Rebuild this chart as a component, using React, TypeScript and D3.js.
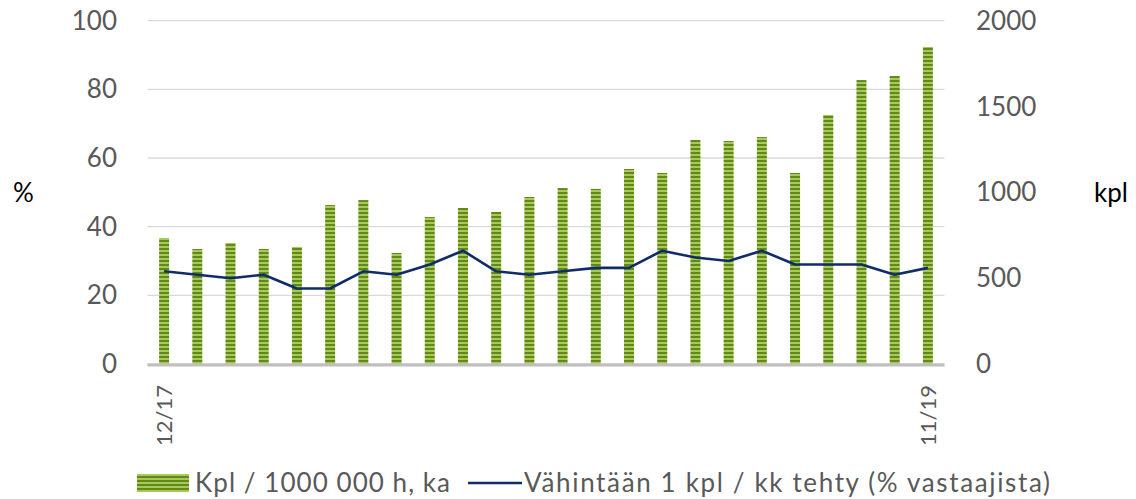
import React from "react";
import * as d3 from "d3";

const months: string[] = [
  "12/17", "1/18", "2/18", "3/18", "4/18", "5/18", "6/18", "7/18", "8/18", "9/18", "10/18", "11/18",
  "12/18", "1/19", "2/19", "3/19", "4/19", "5/19", "6/19", "7/19", "8/19", "9/19", "10/19", "11/19",
];
const kplValues: number[] = [
  734, 670, 705, 670, 682, 926, 955, 647, 856, 909, 886, 973,
  1025, 1020, 1136, 1113, 1305, 1299, 1322, 1113, 1451, 1654, 1678, 1847,
];
const pctValues: number[] = [
  27, 26, 25, 26, 22, 22, 27, 26, 29, 33, 27, 26,
  27, 28, 28, 33, 31, 30, 33, 29, 29, 29, 26, 28,
];
const leftTicks: number[] = [0, 20, 40, 60, 80, 100];
const rightTicks: number[] = [0, 500, 1000, 1500, 2000];
const shownLabels: string[] = ["12/17", "11/19"];
const barName = "Kpl / 1000 000 h, ka";
const lineName = "Vähintään 1 kpl / kk tehty (% vastaajista)";

const FONT = "Lato, 'Open Sans', sans-serif";

export default function App() {
  const W = 1136, H = 499;
  const x0 = 147.5, x1 = 944.5, yTop = 20.7, yBot = 364;
  const x = d3.scaleBand<string>().domain(months).range([x0, x1]).paddingInner(0).paddingOuter(0);
  const yL = d3.scaleLinear().domain([0, 100]).range([yBot, yTop]);
  const yR = d3.scaleLinear().domain([0, 2000]).range([yBot, yTop]);
  const cx = (m: string) => (x(m) as number) + x.bandwidth() / 2;
  const barW = 10;
  const line = d3
    .line<number>()
    .x((_, i) => cx(months[i]))
    .y((d) => yL(d));

  const tickColor = "#595959";
  const fs = 26;

  return (
    <svg width={W} height={H} style={{ position: "absolute", left: 0, top: 0 }} fontFamily={FONT}>
      <defs>
        <pattern id="stripes" patternUnits="userSpaceOnUse" width="8" height="4">
          <rect x="0" y="0" width="8" height="2" fill="#64871a" />
          <rect x="0" y="2" width="8" height="2" fill="#a6ca5a" />
        </pattern>
      </defs>
      <rect width={W} height={H} fill="#fff" />
      {leftTicks.map((t) => (
        <line key={"g" + t} x1={x0} x2={x1} y1={yL(t)} y2={yL(t)} stroke="#d9d9d9" strokeWidth={1.3} />
      ))}
      {months.map((m, i) => (
        <rect
          key={m}
          x={cx(m) - barW / 2}
          y={yR(kplValues[i])}
          width={barW}
          height={yBot - yR(kplValues[i])}
          fill="url(#stripes)"
        />
      ))}
      <line x1={x0} x2={x1} y1={yBot + 1} y2={yBot + 1} stroke="#bfbfbf" strokeWidth={3} />
      <path d={line(pctValues) || ""} fill="none" stroke="#0f2d69" strokeWidth={2.6} strokeLinejoin="round" />
      {leftTicks.map((t) => (
        <text key={"l" + t} x={117} y={yL(t)} dy="0.35em" textAnchor="end" fontSize={fs} fill={tickColor}>
          {t}
        </text>
      ))}
      {rightTicks.map((t) => (
        <text key={"r" + t} x={976} y={yR(t)} dy="0.35em" textAnchor="start" fontSize={fs} fill={tickColor}>
          {t}
        </text>
      ))}
      <text x={13} y={193} dy="0.35em" fontSize={fs} fill="#000">%</text>
      <text x={1094} y={193} dy="0.35em" fontSize={fs} fill="#000">kpl</text>
      {shownLabels.map((m) => (
        <text
          key={"x" + m}
          transform={`translate(${cx(m)},385) rotate(-90)`}
          dy="0.35em"
          textAnchor="end"
          fontSize={22}
          fill={tickColor}
        >
          {m}
        </text>
      ))}
      <rect x={137} y={474} width={52} height={18} fill="url(#stripes)" />
      <text x={195} y={483} dy="0.35em" fontSize={fs} fill={tickColor} textLength={255} lengthAdjust="spacing">
        {barName}
      </text>
      <line x1={468} x2={522} y1={483} y2={483} stroke="#0f2d69" strokeWidth={2.6} />
      <text x={524} y={483} dy="0.35em" fontSize={fs} fill={tickColor} textLength={526} lengthAdjust="spacing">
        {lineName}
      </text>
    </svg>
  );
}
